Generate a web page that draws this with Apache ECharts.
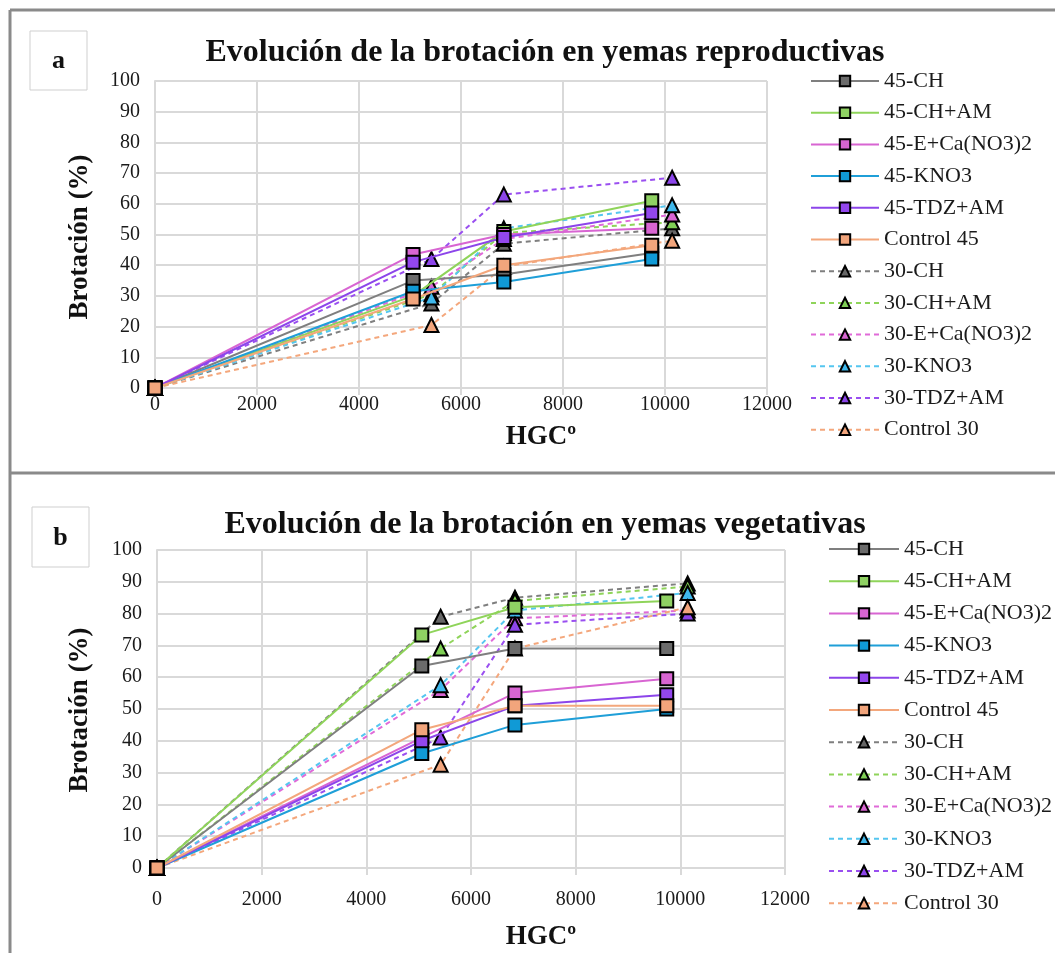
<!DOCTYPE html>
<html>
<head>
<meta charset="utf-8">
<script src="https://cdn.jsdelivr.net/npm/echarts@6/dist/echarts.min.js"></script>
<style>
  html, body { margin: 0; padding: 0; background: #fff; }
  #chart { width: 1055px; height: 953px; }
</style>
</head>
<body>
<div id="chart"></div>
<script>
// Thermal time (HGCº) at each sampling date
const hgc45 = [0, 5060, 6840, 9740];
const hgc30 = [0, 5420, 6840, 10140];

const seriesNames = [
  '45-CH', '45-CH+AM', '45-E+Ca(NO3)2', '45-KNO3', '45-TDZ+AM', 'Control 45',
  '30-CH', '30-CH+AM', '30-E+Ca(NO3)2', '30-KNO3', '30-TDZ+AM', 'Control 30'
];

// Panel a: reproductive buds, budbreak (%)
const rep45CH    = [0, 35, 37, 44];
const rep45CHAM  = [0, 30, 51, 61];
const rep45ECa   = [0, 43.5, 50, 52];
const rep45KNO3  = [0, 31.5, 34.5, 42];
const rep45TDZ   = [0, 41, 49, 57];
const rep45Ctrl  = [0, 29, 40, 46.5];
const rep30CH    = [0, 27.5, 47, 52];
const rep30CHAM  = [0, 30.5, 50.5, 54];
const rep30ECa   = [0, 33, 48.5, 56.5];
const rep30KNO3  = [0, 29.5, 52, 59.5];
const rep30TDZ   = [0, 42, 63, 68.5];
const rep30Ctrl  = [0, 20.5, 39.5, 48];

// Panel b: vegetative buds, budbreak (%)
const veg45CH    = [0, 63.5, 69, 69];
const veg45CHAM  = [0, 73.3, 82, 84];
const veg45ECa   = [0, 41, 55, 59.5];
const veg45KNO3  = [0, 36, 45, 50];
const veg45TDZ   = [0, 40, 51, 54.5];
const veg45Ctrl  = [0, 43.5, 51, 51];
const veg30CH    = [0, 79, 85, 89.5];
const veg30CHAM  = [0, 69, 84, 88.5];
const veg30ECa   = [0, 56, 78.5, 81];
const veg30KNO3  = [0, 57.5, 81, 86.5];
const veg30TDZ   = [0, 41, 76.5, 80];
const veg30Ctrl  = [0, 32.5, 69, 82];

const xTicks = [0, 2000, 4000, 6000, 8000, 10000, 12000];
const yTicks = [0, 10, 20, 30, 40, 50, 60, 70, 80, 90, 100];

const repValues = [rep45CH, rep45CHAM, rep45ECa, rep45KNO3, rep45TDZ, rep45Ctrl,
                   rep30CH, rep30CHAM, rep30ECa, rep30KNO3, rep30TDZ, rep30Ctrl];
const vegValues = [veg45CH, veg45CHAM, veg45ECa, veg45KNO3, veg45TDZ, veg45Ctrl,
                   veg30CH, veg30CHAM, veg30ECa, veg30KNO3, veg30TDZ, veg30Ctrl];

const lineColors = ['#7f7f7f', '#8fd45a', '#d865d2', '#1f9fd8', '#8c45ea', '#f3a77c',
                    '#7f7f7f', '#8fd45a', '#e06ad8', '#55c6f0', '#9a4ff0', '#f4a77c'];
const fillColors = ['#6b6b6b', '#8fd163', '#d865d2', '#109ad6', '#9347ee', '#f2a57c',
                    '#666666', '#7fcf55', '#d865d2', '#3fb8ec', '#8c45ea', '#f2a57c'];

const serif = 'Liberation Serif';

function buildSeries(values, gridIdx) {
  return values.map((vals, i) => {
    const is45 = i < 6;
    const xs = is45 ? hgc45 : hgc30;
    return {
      name: seriesNames[i],
      type: 'line',
      xAxisIndex: gridIdx,
      yAxisIndex: gridIdx,
      data: vals.map((v, k) => [xs[k], v]),
      symbol: is45 ? 'rect' : 'triangle',
      symbolSize: is45 ? 13 : 14,
      showAllSymbol: true,
      animation: false,
      lineStyle: { color: lineColors[i], width: 2, type: is45 ? 'solid' : [5, 4] },
      itemStyle: { color: fillColors[i], borderColor: '#000', borderWidth: 2 },
      emphasis: { disabled: true },
      z: is45 ? 3 : 2
    };
  });
}

function xAxis(gridIdx, labelMargin) {
  return {
    type: 'value', gridIndex: gridIdx, min: 0, max: 12000, interval: 2000,
    axisLine: { show: true, lineStyle: { color: '#d9d9d9', width: 2 } },
    axisTick: { show: true, length: 7, lineStyle: { color: '#d9d9d9', width: 2 } },
    splitLine: { show: true, lineStyle: { color: '#d9d9d9', width: 2 } },
    axisLabel: { fontFamily: serif, fontSize: 20, color: '#1a1a1a', margin: labelMargin,
                 formatter: v => String(v) }
  };
}

function yAxis(gridIdx) {
  return {
    type: 'value', gridIndex: gridIdx, min: 0, max: 100, interval: 10,
    axisLine: { show: true, lineStyle: { color: '#d9d9d9', width: 2 } },
    axisTick: { show: false },
    splitLine: { show: true, lineStyle: { color: '#d9d9d9', width: 2 } },
    axisLabel: { fontFamily: serif, fontSize: 20, color: '#1a1a1a', margin: 15 }
  };
}

function legend(left, top, gap, width) {
  return {
    orient: 'vertical', left: left, top: top, padding: 0,
    itemWidth: width, itemHeight: 13, itemGap: gap,
    textStyle: { fontFamily: serif, fontSize: 22, lineHeight: 22, color: '#1a1a1a' },
    data: seriesNames,
    selectedMode: false
  };
}

function label(text, x, y, rotation) {
  return {
    type: 'text', x: x, y: y, rotation: rotation || 0,
    style: { text: text, fontFamily: serif, fontSize: 27, fontWeight: 'bold', fill: '#111',
             align: 'center', verticalAlign: 'middle' }
  };
}

const chart = echarts.init(document.getElementById('chart'), null, { renderer: 'canvas' });

chart.setOption({
  animation: false,
  backgroundColor: '#fff',
  title: [
    { text: 'Evolución de la brotación en yemas reproductivas', left: 540, top: 32, textAlign: 'center',
      textStyle: { fontFamily: serif, fontSize: 32, fontWeight: 'bold', color: '#111' } },
    { text: 'Evolución de la brotación en yemas vegetativas', left: 540, top: 504, textAlign: 'center',
      textStyle: { fontFamily: serif, fontSize: 32, fontWeight: 'bold', color: '#111' } }
  ],
  grid: [
    { left: 155, top: 81, width: 612, height: 307 },
    { left: 157, top: 550, width: 628, height: 318 }
  ],
  xAxis: [xAxis(0, 7), xAxis(1, 22)],
  yAxis: [yAxis(0), yAxis(1)],
  legend: [legend(810, 70, 9.7, 68), legend(828, 538, 10.2, 70)],
  series: buildSeries(repValues, 0).concat(buildSeries(vegValues, 1)),
  graphic: [
    // outer frame and panel separator
    { type: 'line', shape: { x1: 10, y1: 10, x2: 1055, y2: 10 }, style: { stroke: '#8a8a8a', lineWidth: 3 } },
    { type: 'line', shape: { x1: 10, y1: 10, x2: 10, y2: 953 }, style: { stroke: '#8a8a8a', lineWidth: 3 } },
    { type: 'line', shape: { x1: 10, y1: 473, x2: 1055, y2: 473 }, style: { stroke: '#8a8a8a', lineWidth: 3 } },
    // panel letters
    { type: 'rect', shape: { x: 30, y: 31, width: 57, height: 59 }, style: { fill: '#fff', stroke: '#cfcfcf', lineWidth: 1 } },
    { type: 'text', x: 58.5, y: 61, style: { text: 'a', fontFamily: serif, fontSize: 26, fontWeight: 'bold', fill: '#111', align: 'center', verticalAlign: 'middle' } },
    { type: 'rect', shape: { x: 32, y: 507, width: 57, height: 60 }, style: { fill: '#fff', stroke: '#cfcfcf', lineWidth: 1 } },
    { type: 'text', x: 60.5, y: 538, style: { text: 'b', fontFamily: serif, fontSize: 26, fontWeight: 'bold', fill: '#111', align: 'center', verticalAlign: 'middle' } },
    // axis titles
    label('Brotación (%)', 80, 237, Math.PI / 2),
    label('HGCº', 541, 437),
    label('Brotación (%)', 80, 710, Math.PI / 2),
    label('HGCº', 541, 937)
  ]
});
</script>
</body>
</html>
